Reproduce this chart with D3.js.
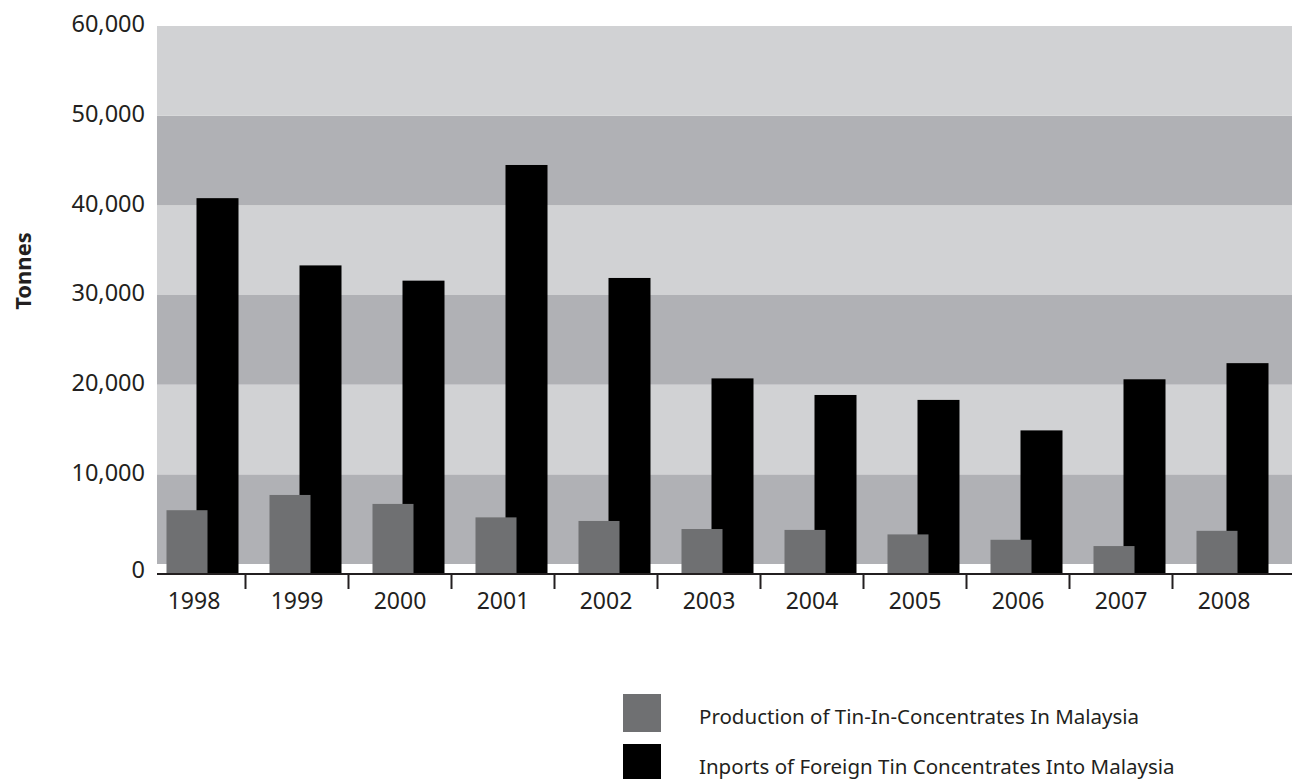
<!DOCTYPE html>
<html>
<head>
<meta charset="utf-8">
<script src="https://cdn.jsdelivr.net/npm/d3@7"></script>
<style>
  body { margin: 0; background: #fff; }
  text { font-family: "Noto Sans", "Open Sans", sans-serif; fill: #231f20; }
</style>
</head>
<body>
<script>
var years = ["1998","1999","2000","2001","2002","2003","2004","2005","2006","2007","2008"];
var production = [6000, 7700, 6700, 5200, 4800, 3900, 3800, 3300, 2700, 2000, 3700];
var imports = [40800, 33300, 31600, 44500, 31900, 20700, 18850, 18300, 14900, 20600, 22400];
var yTicks = [0, 10000, 20000, 30000, 40000, 50000, 60000];
var legendLabels = ["Production of Tin-In-Concentrates In Malaysia", "Inports of Foreign Tin Concentrates Into Malaysia"];
var colors = ["#6f7072", "#000000"];

var svg = d3.select("body").append("svg").attr("width", 1292).attr("height", 779);

var y = d3.scaleLinear().domain([0, 60000]).range([564, 26]);
var x = d3.scaleBand().domain(years).range([142.5, 142.5 + 103 * years.length]);
var baseY = 574; // the axis line sits a little below the zero of the bands

// alternating background bands, one per tick interval
svg.selectAll("rect.band")
    .data(yTicks.slice(0, -1))
    .enter().append("rect")
    .attr("class", "band")
    .attr("x", 157)
    .attr("width", 1292 - 157)
    .attr("y", function(d){ return y(d + 10000); })
    .attr("height", function(d){ return y(d) - y(d + 10000); })
    .attr("fill", function(d, i){ return i % 2 == 0 ? "#b0b1b5" : "#d1d2d4"; });

// imports first, production bars drawn over them
svg.selectAll("rect.imp")
    .data(imports)
    .enter().append("rect")
    .attr("class", "imp")
    .attr("x", function(d, i){ return x(years[i]) + 54; })
    .attr("width", 42)
    .attr("y", function(d){ return y(d); })
    .attr("height", function(d){ return baseY - y(d); })
    .attr("fill", colors[1]);

svg.selectAll("rect.prod")
    .data(production)
    .enter().append("rect")
    .attr("class", "prod")
    .attr("x", function(d, i){ return x(years[i]) + 24; })
    .attr("width", 41)
    .attr("y", function(d){ return y(d); })
    .attr("height", function(d){ return baseY - 1 - y(d); })
    .attr("fill", colors[0]);

// x axis line + ticks between the years
svg.append("line")
    .attr("x1", 157).attr("x2", 1292)
    .attr("y1", baseY).attr("y2", baseY)
    .attr("stroke", "#231f20")
    .attr("stroke-width", 2);

svg.selectAll("line.tick")
    .data(years.slice(1))
    .enter().append("line")
    .attr("class", "tick")
    .attr("x1", function(d){ return x(d); })
    .attr("x2", function(d){ return x(d); })
    .attr("y1", baseY)
    .attr("y2", baseY + 15)
    .attr("stroke", "#231f20")
    .attr("stroke-width", 2);

svg.selectAll("text.year")
    .data(years)
    .enter().append("text")
    .attr("class", "year")
    .attr("x", function(d){ return x(d) + x.bandwidth() / 2; })
    .attr("y", 609)
    .attr("text-anchor", "middle")
    .attr("font-size", 23)
    .text(function(d){ return d; });

// y tick labels (zero sits on the axis line)
svg.selectAll("text.ylab")
    .data(yTicks)
    .enter().append("text")
    .attr("class", "ylab")
    .attr("x", 145)
    .attr("y", function(d){ return d == 0 ? baseY - 2 : y(d); })
    .attr("text-anchor", "end")
    .attr("dominant-baseline", "middle")
    .attr("font-size", 23.5)
    .text(function(d){ return d3.format(",")(d); });

svg.append("text")
    .attr("transform", "translate(31,271) rotate(-90)")
    .attr("text-anchor", "middle")
    .attr("font-size", 22)
    .attr("font-weight", "bold")
    .text("Tonnes");

// legend
svg.selectAll("rect.leg")
    .data(legendLabels)
    .enter().append("rect")
    .attr("class", "leg")
    .attr("x", 623)
    .attr("y", function(d, i){ return 694 + i * 50; })
    .attr("width", 38)
    .attr("height", 38)
    .attr("fill", function(d, i){ return colors[i]; });

svg.selectAll("text.leg")
    .data(legendLabels)
    .enter().append("text")
    .attr("class", "leg")
    .attr("x", 699)
    .attr("y", function(d, i){ return 724 + i * 50; })
    .attr("font-size", 20.5)
    .text(function(d){ return d; });
</script>
</body>
</html>
